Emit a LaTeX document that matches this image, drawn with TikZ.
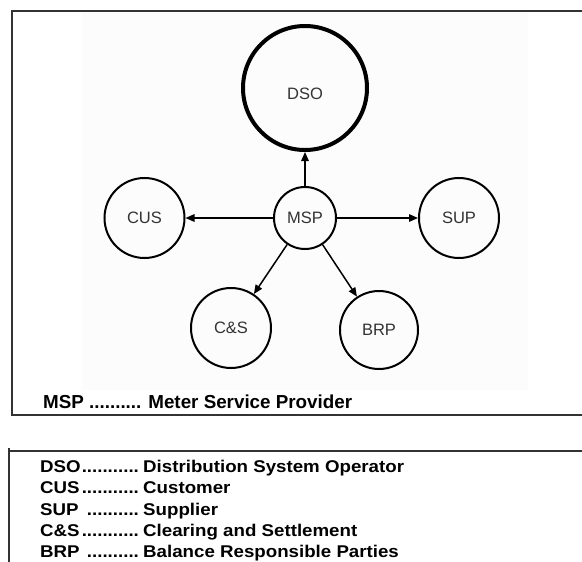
\documentclass[tikz,border=0pt]{standalone}
\usepackage{fontspec}
\setmainfont{Liberation Sans}
\newfontfamily\legb[FakeStretch=1.1]{Liberation Sans Bold}
\newfontfamily\legm{Liberation Sans Bold}
\usetikzlibrary{arrows.meta}
\definecolor{framec}{HTML}{333333}
\begin{document}
\begin{tikzpicture}[x=1pt,y=-1pt,
  ent/.style={circle,draw=black,line width=2pt,inner sep=0pt,minimum size=80pt,
    font=\fontsize{16.5}{19}\selectfont,text=black!80},
  bigent/.style={ent,line width=4pt,minimum size=124pt},
  arr/.style={draw=black,line width=1.5pt,-{Triangle[length=9pt,width=7.5pt]}},
  framel/.style={draw=framec,line width=2pt},
  lbl/.style={inner sep=0pt,font=\fontsize{16.5}{19}\selectfont,text=black!80},
  legline/.style={anchor=base west,inner sep=0pt,font=\legb\fontsize{17}{20}\selectfont}]
\clip (0,0) rectangle (582,562);
\fill[white] (0,0) rectangle (582,562);
\fill[black!1] (82,12) rectangle (528,390);
% frames
\draw[framel] (600,10.7) -- (12,10.7) -- (12,415) -- (600,415);
\draw[framel] (600,451) -- (9,451);
\draw[framel] (9,448) -- (9,570);
% entities
\node[bigent] (DSO) at (305,88) {};
\node[lbl] (DSOlbl) at (305,94) {DSO};
\node[ent,minimum size=62pt] (MSP) at (305,218) {MSP};
\node[ent] (CUS) at (144.5,218) {CUS};
\node[ent] (SUP) at (459,218) {SUP};
\node[ent] (CS) at (231,328) {C\&S};
\node[ent,minimum size=78pt] (BRP) at (379,330) {BRP};
% arrows
\draw[arr] (MSP) -- (DSO);
\draw[arr] (MSP) -- (CUS);
\draw[arr] (MSP) -- (SUP);
\draw[arr] (MSP) -- (CS);
\draw[arr] (MSP) -- (BRP);
% legends
\node[anchor=base west,inner sep=0pt,font=\legm\fontsize{18.8}{22}\selectfont] (leg0) at (43,408.5) {MSP .......... Meter Service Provider};
\node[legline] (leg1) at (40,472) {\makebox[103pt][l]{DSO\leaders\hbox{.}\hfill}Distribution System Operator};
\node[legline] (leg2) at (40,493.5) {\makebox[103pt][l]{CUS\leaders\hbox{.}\hfill}Customer};
\node[legline] (leg3) at (40,515) {\makebox[103pt][l]{SUP\ \leaders\hbox{.}\hfill}Supplier};
\node[legline] (leg4) at (40,536.5) {\makebox[103pt][l]{C\&S\leaders\hbox{.}\hfill}Clearing and Settlement};
\node[legline] (leg5) at (40,557.5) {\makebox[103pt][l]{BRP\ \leaders\hbox{.}\hfill}Balance Responsible Parties};
\end{tikzpicture}
\end{document}
